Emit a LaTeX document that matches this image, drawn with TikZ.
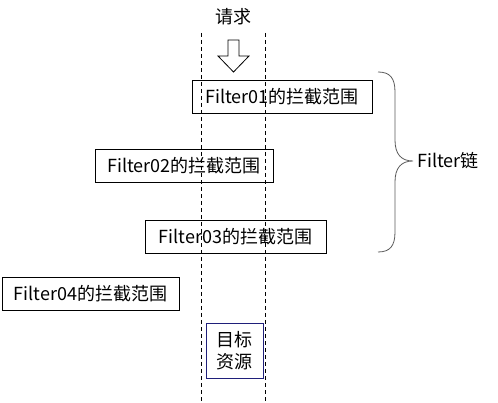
\documentclass[tikz,border=0pt]{standalone}
\usepackage{fontspec}
\setmainfont{Noto Sans CJK SC}
\usetikzlibrary{
    positioning,% wg. " of "
    calc%
}
\definecolor{navy}{HTML}{1F1F7A}
\definecolor{bracegray}{HTML}{5A5A5A}

\begin{document}
\begin{tikzpicture}[x=1pt,y=-1pt,
    scope box/.style={draw=black, line width=0.8pt, inner sep=0pt,
        minimum height=33pt, font=\fontsize{18}{21}\selectfont},
    target box/.style={draw=navy, line width=0.8pt, inner sep=0pt,
        minimum width=57pt, minimum height=55pt, align=center,
        font=\fontsize{18}{22}\selectfont},
    lane/.style={line width=0.8pt, dash pattern=on 4pt off 3pt},
    label text/.style={inner sep=0pt, font=\fontsize{18}{21}\selectfont}
]
    \useasboundingbox (0,0) rectangle (498,403);

    %%% the two lane lines of the request
    \coordinate (laneLtop) at (201.5,33);
    \coordinate (laneLbot) at (201.5,403);
    \coordinate (laneRtop) at (265.5,33);
    \coordinate (laneRbot) at (265.5,403);
    \draw[lane] (laneLtop) -- (laneLbot);
    \draw[lane] (laneRtop) -- (laneRbot);

    \node[label text] (request) at (233.5,17) {请求};

    %%% hollow arrow under the request
    \coordinate (arrowTop) at (233.5,40);
    \draw[line width=0.8pt, line join=miter] (arrowTop) ++(-5.5,0)
        -- ++(11,0) -- ++(0,16) -- ++(10,0)
        -- ++(-15.5,16) -- ++(-15.5,-16) -- ++(10,0) -- cycle;

    %%% the filter scopes
    \node[scope box, minimum width=180pt] (filter1) at (282,96.5) {Filter01的拦截范围};
    \node[scope box, minimum width=178pt] (filter2) at (184,165.5) {Filter02的拦截范围};
    \node[scope box, minimum width=181pt] (filter3) at (235.5,236.5) {Filter03的拦截范围};
    \node[scope box, minimum width=177pt] (filter4) at (90.5,294) {Filter04的拦截范围};

    \node[target box] (target) at (234.5,350.5) {目标\\资源};

    %%% brace around the chain
    \coordinate (braceTop) at (378,72);
    \coordinate (braceTip) at (413,161);
    \coordinate (braceBot) at (378,252);
    \draw[bracegray, line width=0.8pt] (braceTop)
        .. controls (390,72) and (395,78) .. (395,92)
        -- (395,140)
        .. controls (395,154) and (401,161) .. (braceTip)
        .. controls (401,161) and (395,168) .. (395,182)
        -- (395,232)
        .. controls (395,246) and (390,252) .. (braceBot);

    \node[label text, anchor=west] (chain) at ($(braceTip)+(4,0)$) {Filter链};
\end{tikzpicture}
\end{document}
